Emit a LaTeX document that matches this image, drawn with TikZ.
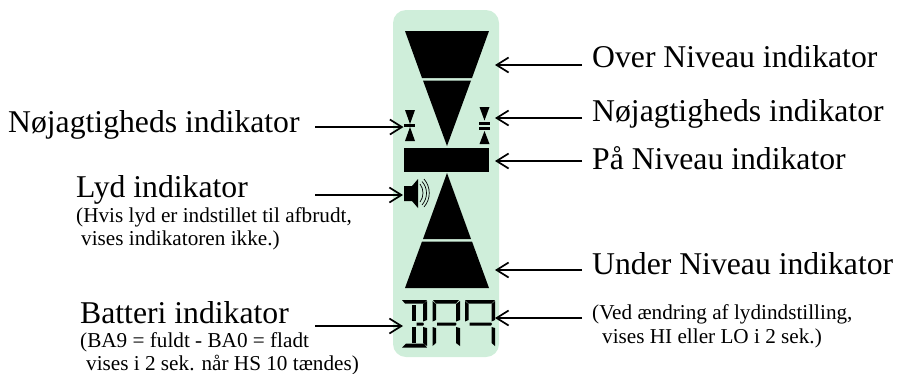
\documentclass[tikz,border=0pt]{standalone}
\usepackage{fontspec}
\setmainfont{Liberation Serif}
\usetikzlibrary{arrows.meta}
\definecolor{panelgreen}{HTML}{CFEEDA}
\tikzset{
  x=1pt,y=-1pt,
  biglabel/.style={anchor=base west,inner sep=0pt,font=\fontsize{31.7}{32}\selectfont},
  smalllabel/.style={anchor=base west,inner sep=0pt,font=\fontsize{21.2}{22}\selectfont},
  pointer/.style={draw=black,line width=1.3pt,-{Straight Barb[length=12pt,width=15pt,line width=1.7pt]}},
  seg/.style={fill=black,draw=none},
}
\begin{document}
\begin{tikzpicture}
\useasboundingbox (0,0) rectangle (897,373);
% panel
\fill[panelgreen,rounded corners=13pt] (393,10) rectangle (499,357);
% upper triangle
\fill[seg] (405,31) -- (489,31) -- (472,78) -- (422,78) -- cycle;
\fill[seg] (423,80.5) -- (471,80.5) -- (447,146) -- cycle;
% on-level bar
\node[fill=black,inner sep=0pt,minimum width=85pt,minimum height=24pt] (levelbar) at (446.5,160) {};
% lower triangle
\fill[seg] (447,173) -- (471,239) -- (423,239) -- cycle;
\fill[seg] (422,241.5) -- (472,241.5) -- (489,288) -- (405,288) -- cycle;
% left accuracy mark
\fill[seg] (405,110) -- (415,110) -- (410,124) -- cycle;
\fill[seg] (404,124.3) rectangle (415,127);
\fill[seg] (410,127) -- (415,141) -- (405,141) -- cycle;
% right accuracy mark
\fill[seg] (479.5,107) -- (489.5,107) -- (484.5,120.5) -- cycle;
\fill[seg] (479,121.5) rectangle (490,124.5);
\fill[seg] (479,126.7) rectangle (490,129.7);
\fill[seg] (484.5,131) -- (489.5,144) -- (479.5,144) -- cycle;
% speaker
\fill[seg] (404,186) -- (412,186) -- (418,179) -- (418,208) -- (412,201) -- (404,201) -- cycle;
\draw[line width=.7pt] (420,184) .. controls (424,189) and (424,197) .. (420,202);
\draw[line width=.7pt] (422,181.5) .. controls (428,188) and (428,198) .. (422,205);
\draw[line width=.7pt] (424,179) .. controls (431,187) and (431,199) .. (424,207);
% digit B
\fill[seg] (402,300) -- (427,300) -- (424,303.5) -- (405,303.5) -- cycle;
\fill[seg] (412,304.5) -- (416,304.5) -- (416,321) -- (412,321) -- cycle;
\fill[seg] (423,304) -- (427,301) -- (427,320) -- (423,321.5) -- cycle;
\fill[seg] (416.5,322.5) -- (423,322.5) -- (424,324) -- (423,325.5) -- (416.5,325.5) -- cycle;
\fill[seg] (412,327) -- (416,327) -- (416,343) -- (412,343) -- cycle;
\fill[seg] (423,327) -- (427,328) -- (427,346) -- (423,343) -- cycle;
\fill[seg] (406,343.5) -- (424,343.5) -- (427,347.5) -- (402,347.5) -- cycle;
% digit A
\fill[seg] (433,300) -- (459,300) -- (456,303.5) -- (436,303.5) -- cycle;
\fill[seg] (432.5,301) -- (436,304) -- (436,320) -- (432.5,321.5) -- cycle;
\fill[seg] (456,304) -- (460,301) -- (460,320) -- (456,321.5) -- cycle;
\fill[seg] (437,322.5) -- (455.5,322.5) -- (456.5,324) -- (455.5,325.5) -- (437,325.5) -- cycle;
\fill[seg] (432.5,327) -- (436,328) -- (436,343) -- (432.5,346) -- cycle;
\fill[seg] (456,327) -- (460,328) -- (460,346) -- (456,343) -- cycle;
% digit 9
\fill[seg] (465,300) -- (495,300) -- (491.5,303.5) -- (468.5,303.5) -- cycle;
\fill[seg] (465,301) -- (468.5,304) -- (468.5,320) -- (465,321.5) -- cycle;
\fill[seg] (491.5,304) -- (495,301) -- (495,320) -- (491.5,321.5) -- cycle;
\fill[seg] (469.5,322.5) -- (491,322.5) -- (492,324) -- (491,325.5) -- (469.5,325.5) -- cycle;
\fill[seg] (491.5,327) -- (495,328) -- (495,346) -- (491.5,343) -- cycle;
% labels
\node[biglabel] (over) at (592,67) {Over Niveau indikator};
\node[biglabel] (accright) at (592,121) {Nøjagtigheds indikator};
\node[biglabel] (level) at (592,169) {På Niveau indikator};
\node[biglabel] (under) at (592,274) {Under Niveau indikator};
\node[biglabel] (accleft) at (8,132) {Nøjagtigheds indikator};
\node[biglabel] (sound) at (76,197) {Lyd indikator};
\node[smalllabel] (soundnote1) at (76,222.5) {(Hvis lyd er indstillet til afbrudt,};
\node[smalllabel] (soundnote2) at (81,245.5) {vises indikatoren ikke.)};
\node[biglabel] (batt) at (80,323) {Batteri indikator};
\node[smalllabel] (battnote1) at (80,347) {(BA9 = fuldt - BA0 = fladt};
\node[smalllabel] (battnote2) at (86,370) {vises i 2 sek. når HS 10 tændes)};
\node[smalllabel] (hinote1) at (592,319) {(Ved ændring af lydindstilling,};
\node[smalllabel] (hinote2) at (602,343) {vises HI eller LO i 2 sek.)};
% connector ends
\coordinate (overtail) at (582,65);
\coordinate (overhead) at (495,65);
\coordinate (accrighttail) at (582,118);
\coordinate (accrighthead) at (495,118);
\coordinate (leveltail) at (582,161);
\coordinate (levelhead) at (495,161);
\coordinate (undertail) at (582,270);
\coordinate (underhead) at (495,270);
\coordinate (hitail) at (582,318);
\coordinate (hihead) at (495,318);
\coordinate (acclefttail) at (315,127);
\coordinate (acclefthead) at (403.5,127);
\coordinate (soundtail) at (315,195);
\coordinate (soundhead) at (403,195);
\coordinate (batttail) at (315,326);
\coordinate (batthead) at (403,326);
\draw[pointer] (overtail) -- (overhead);
\draw[pointer] (accrighttail) -- (accrighthead);
\draw[pointer] (leveltail) -- (levelhead);
\draw[pointer] (undertail) -- (underhead);
\draw[pointer] (hitail) -- (hihead);
\draw[pointer] (acclefttail) -- (acclefthead);
\draw[pointer] (soundtail) -- (soundhead);
\draw[pointer] (batttail) -- (batthead);
\end{tikzpicture}
\end{document}
